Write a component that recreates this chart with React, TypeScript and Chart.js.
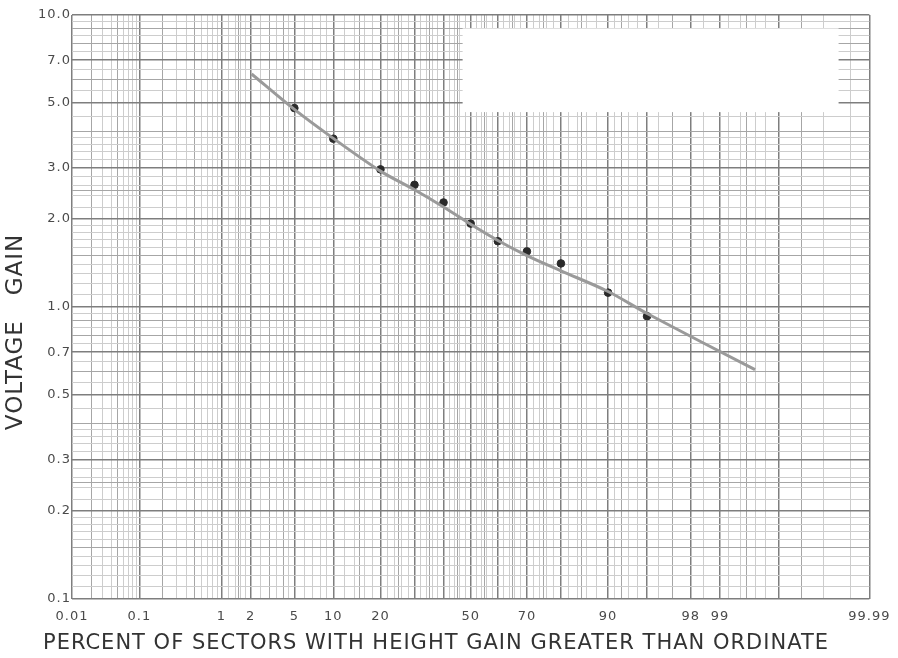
import React, { useEffect, useRef } from 'react';
import { Chart, registerables } from 'chart.js';

Chart.register(...registerables);

// Measured points (percent of sectors, voltage gain)
const pointPercents = [5, 10, 20, 30, 40, 50, 60, 70, 80, 90, 95];
const pointGains = [4.8, 3.77, 2.96, 2.62, 2.28, 1.93, 1.68, 1.55, 1.41, 1.12, 0.93];

// Fitted curve
const curvePercents = [2.05, 5, 10, 20, 30, 40, 50, 60, 70, 80, 90, 95, 99.6];
const curveGains = [6.28, 4.75, 3.78, 2.92, 2.52, 2.2, 1.92, 1.69, 1.5, 1.33, 1.13, 0.95, 0.61];

// Axis labels
const xTickLabels = ['0.01', '0.1', '1', '2', '5', '10', '20', '50', '70', '90', '98', '99', '99.99'];
const yTickLabels = ['0.1', '0.2', '0.3', '0.5', '0.7', '1.0', '2.0', '3.0', '5.0', '7.0', '10.0'];

// Probability-paper grid rulings (percent)
const xMajorGrid = [0.01, 0.1, 1, 2, 5, 10, 20, 30, 40, 50, 60, 70, 80, 90, 95, 98, 99, 99.8, 99.99];
const xMidGrid = [0.02, 0.05, 0.2, 0.5, 1.5, 3, 4, 15, 25, 35, 45, 55, 65, 75, 85, 92, 97, 99.5, 99.9];
const xMinorGrid = [0.03, 0.04, 0.06, 0.07, 0.08, 0.09, 0.3, 0.4, 0.6, 0.7, 0.8, 0.9, 1.2, 1.4, 1.6, 1.8,
  2.5, 3.5, 4.5, 6, 7, 8, 9, 12, 14, 16, 18, 22, 24, 26, 28, 32, 34, 36, 38, 42, 44, 46, 48, 52, 54, 56, 58,
  62, 64, 66, 68, 72, 74, 76, 78, 82, 84, 86, 88, 91, 93, 94, 96, 98.5, 99.2, 99.4, 99.6, 99.7, 99.95, 99.98];

// Log-paper grid rulings (gain)
const yMajorGrid = [0.1, 0.2, 0.3, 0.5, 0.7, 1, 2, 3, 5, 7, 10];
const yMidGrid = [0.15, 0.25, 0.4, 0.6, 0.8, 0.9, 1.5, 2.5, 4, 6, 8, 9];
const yMinorGrid = [0.11, 0.12, 0.13, 0.14, 0.16, 0.17, 0.18, 0.19, 0.22, 0.24, 0.26, 0.28, 0.32, 0.34, 0.36,
  0.38, 0.45, 0.55, 0.65, 0.75, 0.85, 0.95, 1.1, 1.2, 1.3, 1.4, 1.6, 1.7, 1.8, 1.9, 2.2, 2.4, 2.6, 2.8, 3.2,
  3.4, 3.6, 3.8, 4.5, 5.5, 6.5, 7.5, 8.5, 9.5];

// Blank label area on the paper (percent, gain)
const blankBoxPercent = [47, 99.97];
const blankBoxGain = [9.0, 4.65];

// inverse normal CDF (Acklam)
function probit(p: number): number {
  const a = [-3.969683028665376e1, 2.209460984245205e2, -2.759285104469687e2, 1.38357751867269e2, -3.066479806614716e1, 2.506628277459239];
  const b = [-5.447609879822406e1, 1.615858368580409e2, -1.556989798598866e2, 6.680131188771972e1, -1.328068155288572e1];
  const c = [-7.784894002430293e-3, -3.223964580411365e-1, -2.400758277161838, -2.549732539343734, 4.374664141464968, 2.938163982698783];
  const d = [7.784695709041462e-3, 3.224671290700398e-1, 2.445134137142996, 3.754408661907416];
  const pl = 0.02425;
  if (p < pl) {
    const q = Math.sqrt(-2 * Math.log(p));
    return (((((c[0] * q + c[1]) * q + c[2]) * q + c[3]) * q + c[4]) * q + c[5]) / ((((d[0] * q + d[1]) * q + d[2]) * q + d[3]) * q + 1);
  }
  if (p > 1 - pl) {
    const q = Math.sqrt(-2 * Math.log(1 - p));
    return -(((((c[0] * q + c[1]) * q + c[2]) * q + c[3]) * q + c[4]) * q + c[5]) / ((((d[0] * q + d[1]) * q + d[2]) * q + d[3]) * q + 1);
  }
  const q = p - 0.5;
  const r = q * q;
  return (((((a[0] * r + a[1]) * r + a[2]) * r + a[3]) * r + a[4]) * r + a[5]) * q / (((((b[0] * r + b[1]) * r + b[2]) * r + b[3]) * r + b[4]) * r + 1);
}
const pz = (pct: number) => probit(pct / 100);
const near = (a: number, b: number, eps: number) => Math.abs(a - b) < eps;

const FONT = 'DejaVu Sans, sans-serif';

const letterSpacingPlugin = {
  id: 'letterSpacing',
  beforeDraw(chart: any) { (chart.ctx as any).letterSpacing = '1px'; },
  afterDraw(chart: any) { (chart.ctx as any).letterSpacing = '0px'; },
};

const blankBoxPlugin = {
  id: 'blankBox',
  beforeDatasetsDraw(chart: any) {
    const { ctx, scales } = chart;
    const x1 = scales.x.getPixelForValue(pz(blankBoxPercent[0]));
    const x2 = scales.x.getPixelForValue(pz(blankBoxPercent[1]));
    const y1 = scales.y.getPixelForValue(blankBoxGain[0]);
    const y2 = scales.y.getPixelForValue(blankBoxGain[1]);
    ctx.save();
    ctx.fillStyle = '#ffffff';
    ctx.fillRect(x1, y1, x2 - x1, y2 - y1);
    ctx.restore();
  },
};

function gridLevel(v: number, major: number[], mid: number[], eps: number, map: (n: number) => number) {
  if (major.some(m => near(map(m), v, eps))) return 0;
  if (mid.some(m => near(map(m), v, eps))) return 1;
  return 2;
}
const gridColors = ['#7e7e7e', '#a6a6a6', '#cdcdcd'];
const gridWidths = [1.5, 1, 1];

export default function App() {
  const ref = useRef<HTMLCanvasElement | null>(null);

  useEffect(() => {
    document.body.style.margin = '0';
    if (!ref.current) return;
    const allX = [...xMajorGrid, ...xMidGrid, ...xMinorGrid].sort((a, b) => a - b);
    const allY = [...yMajorGrid, ...yMidGrid, ...yMinorGrid].sort((a, b) => a - b);

    const chart = new Chart(ref.current, {
      type: 'scatter',
      data: {
        datasets: [
          {
            type: 'line',
            label: 'Fitted curve',
            data: curvePercents.map((p, i) => ({ x: pz(p), y: curveGains[i] })),
            borderColor: '#9a9a9a',
            borderWidth: 3,
            pointRadius: 0,
            tension: 0.3,
            fill: false,
          },
          {
            type: 'scatter',
            label: 'Measured',
            data: pointPercents.map((p, i) => ({ x: pz(p), y: pointGains[i] })),
            backgroundColor: '#2a2a2a',
            borderColor: '#2a2a2a',
            pointRadius: 3.8,
            pointHoverRadius: 3.8,
          },
        ],
      },
      options: {
        animation: false,
        responsive: true,
        maintainAspectRatio: false,
        layout: { padding: { top: 15, right: 26, left: 0, bottom: 0 } },
        plugins: {
          legend: { display: false },
          tooltip: { enabled: false },
          title: {
            display: true,
            position: 'bottom',
            text: 'PERCENT OF SECTORS WITH HEIGHT GAIN GREATER THAN ORDINATE',
            color: '#333333',
            font: { family: FONT, size: 21, weight: 'normal' },
            padding: { top: 2, bottom: 2 },
          },
        },
        scales: {
          x: {
            type: 'linear',
            min: pz(0.01),
            max: pz(99.99),
            afterBuildTicks: (s: any) => { s.ticks = allX.map(p => ({ value: pz(p) })); },
            afterFit: (s: any) => { s.height = 29.8; },
            border: { display: false },
            grid: {
              drawTicks: false,
              color: (c: any) => gridColors[gridLevel(c.tick.value, xMajorGrid, xMidGrid, 1e-7, pz)],
              lineWidth: (c: any) => gridWidths[gridLevel(c.tick.value, xMajorGrid, xMidGrid, 1e-7, pz)],
            },
            ticks: {
              autoSkip: false,
              maxRotation: 0,
              padding: 10,
              color: '#4a4a4a',
              font: { family: FONT, size: 13 },
              callback: (v: any) => {
                const l = xTickLabels.find(t => near(pz(parseFloat(t)), Number(v), 1e-7));
                return l ?? '';
              },
            },
          },
          y: {
            type: 'logarithmic',
            min: 0.1,
            max: 10,
            afterBuildTicks: (s: any) => { s.ticks = allY.map(v => ({ value: v })); },
            afterFit: (s: any) => { s.width = 72; },
            border: { display: false },
            grid: {
              drawTicks: false,
              color: (c: any) => gridColors[gridLevel(c.tick.value, yMajorGrid, yMidGrid, 1e-9, (n) => n)],
              lineWidth: (c: any) => gridWidths[gridLevel(c.tick.value, yMajorGrid, yMidGrid, 1e-9, (n) => n)],
            },
            ticks: {
              autoSkip: false,
              padding: 1,
              color: '#4a4a4a',
              font: { family: FONT, size: 13 },
              callback: (v: any) => {
                const l = yTickLabels.find(t => near(parseFloat(t), Number(v), 1e-9));
                return l ?? '';
              },
            },
            title: {
              display: true,
              text: 'VOLTAGE   GAIN      ',
              color: '#333333',
              font: { family: FONT, size: 23 },
              padding: { top: 2, bottom: 0 },
            },
          },
        },
      },
      plugins: [letterSpacingPlugin, blankBoxPlugin],
    } as any);

    return () => chart.destroy();
  }, []);

  return (
    <div style={{ width: 898, height: 658, position: 'relative', background: '#ffffff' }}>
      <canvas ref={ref} />
    </div>
  );
}
